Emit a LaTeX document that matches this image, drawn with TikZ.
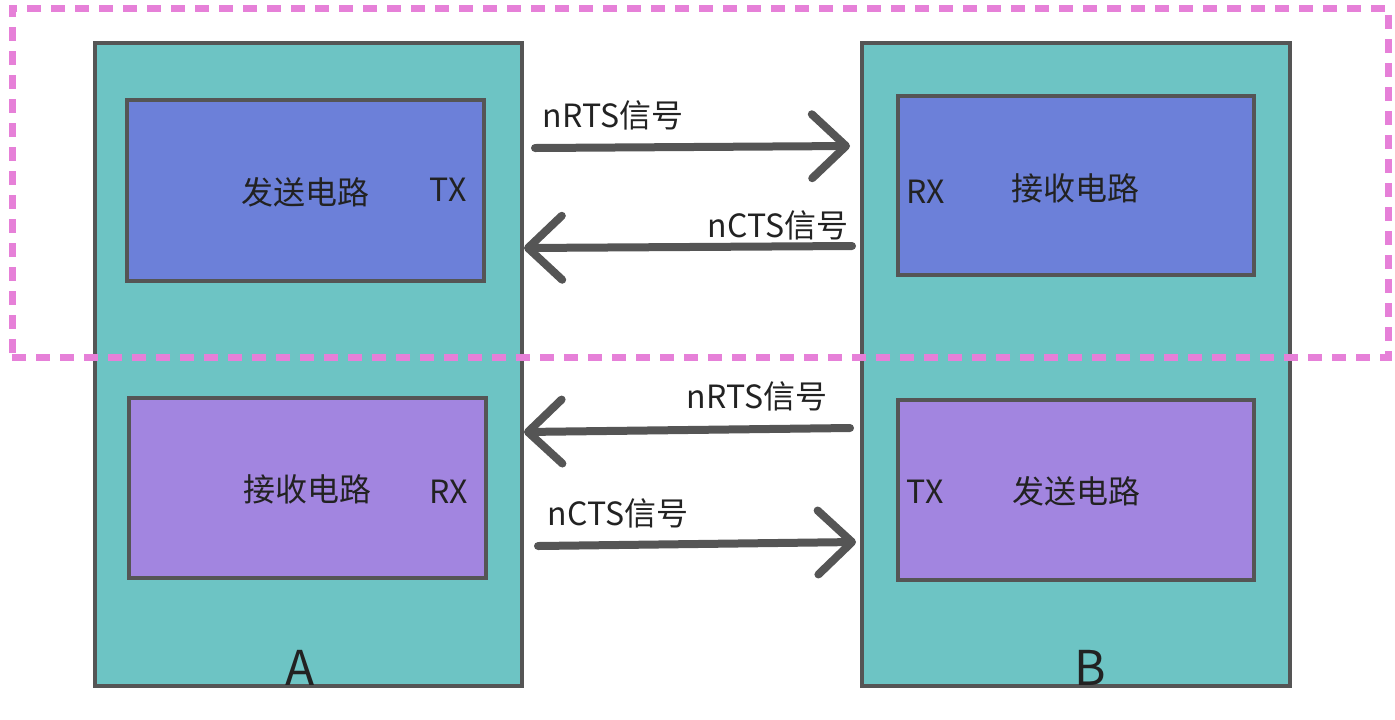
\documentclass[tikz,border=0pt]{standalone}
\usepackage{fontspec}
\setmainfont{Noto Sans CJK SC}
\usetikzlibrary{arrows.meta,fit}
\definecolor{tealbg}{HTML}{6DC4C4}
\definecolor{bluebg}{HTML}{6C80D9}
\definecolor{purplebg}{HTML}{A285E0}
\definecolor{edge}{HTML}{555555}
\definecolor{pinkd}{HTML}{E680D8}
\definecolor{txt}{HTML}{222222}
\tikzset{
  outerbox/.style={draw=edge, fill=tealbg, line width=2pt, inner sep=0pt},
  sendbox/.style={draw=edge, fill=bluebg, line width=2pt, inner sep=0pt},
  recvbox/.style={draw=edge, fill=purplebg, line width=2pt, inner sep=0pt},
  lbl/.style={text=txt, font=\fontsize{16}{19}\selectfont, inner sep=0pt},
  biglbl/.style={text=txt, font=\fontsize{24}{28}\selectfont, inner sep=0pt},
  sig/.style={draw=edge, line width=4pt, line cap=round, line join=round,
    -{Straight Barb[length=17pt,width=32pt,round]}},
  region/.style={draw=pinkd, line width=3.5pt, dash pattern=on 7pt off 5pt}
}
\begin{document}
\begin{tikzpicture}[x=0.5pt,y=-0.5pt]
\useasboundingbox (0,0) rectangle (1395,719);
% outer boxes
\node[outerbox, fit={(95,43) (522,686)}] (A) {};
\node[outerbox, fit={(862,43) (1290,686)}] (B) {};
% inner boxes
\node[sendbox, fit={(127,100) (484,281)}] (Atx) {};
\node[sendbox, fit={(898,96) (1254,275)}] (Brx) {};
\node[recvbox, fit={(129,398) (486,578)}] (Arx) {};
\node[recvbox, fit={(898,400) (1254,580)}] (Btx) {};
% texts
\node[lbl] (t1) at (305,192) {发送电路};
\node[lbl] (t2) at (448,190) {TX};
\node[lbl] (t3) at (1075,188) {接收电路};
\node[lbl] (t4) at (926,192) {RX};
\node[lbl] (t5) at (307,489) {接收电路};
\node[lbl] (t6) at (449,492) {RX};
\node[lbl] (t7) at (925,492) {TX};
\node[lbl] (t8) at (1076,491) {发送电路};
\node[biglbl] (la) at (300,668) {A};
\node[biglbl] (lb) at (1090,668) {B};
% signal labels
\node[lbl] (s1) at (613,115) {nRTS信号};
\node[lbl] (s2) at (778,225) {nCTS信号};
\node[lbl] (s3) at (757,396) {nRTS信号};
\node[lbl] (s4) at (618,513) {nCTS信号};
% connector endpoints
\coordinate (r1a) at (535,148);
\coordinate (r1b) at (850,146);
\coordinate (c1a) at (852,246);
\coordinate (c1b) at (524,248);
\coordinate (r2a) at (850,428);
\coordinate (r2b) at (524,432);
\coordinate (c2a) at (538,546);
\coordinate (c2b) at (856,542);
\draw[sig] (r1a) -- (r1b);
\draw[sig] (c1a) -- (c1b);
\draw[sig] (r2a) -- (r2b);
\draw[sig] (c2a) -- (c2b);
% dashed region
\node[region, fit={(12,8) (1388,357)}, inner sep=0pt] (reg) {};
\end{tikzpicture}
\end{document}
